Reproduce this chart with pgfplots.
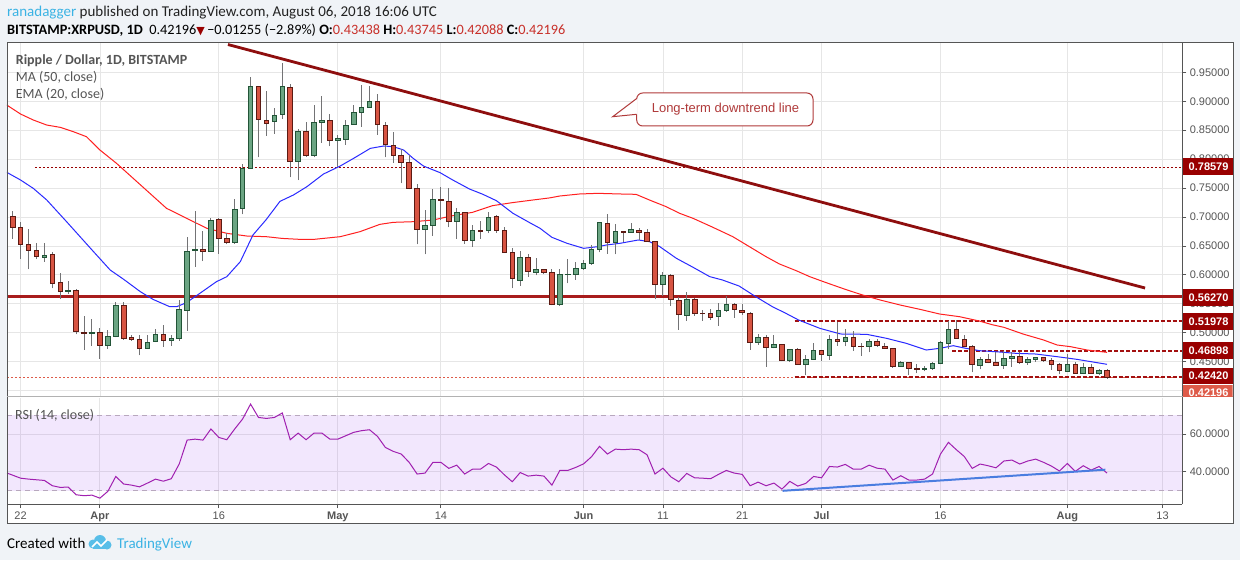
\documentclass[border=0pt]{standalone}
\usepackage{fontspec}
\setmainfont{Liberation Sans}
\newfontfamily\cf{Carlito}
\newfontfamily\djv{DejaVu Sans}
\usepackage{pgfplots}
\pgfplotsset{compat=1.18}
\usepackage{pgfplotstable}
\definecolor{bgc}{HTML}{F0F3F7}
\definecolor{upf}{HTML}{6BA583}
\definecolor{upb}{HTML}{225437}
\definecolor{dnf}{HTML}{D75442}
\definecolor{dnb}{HTML}{5B1A13}
\definecolor{wick}{HTML}{737375}
\definecolor{gridc}{HTML}{E6E6E6}
\definecolor{txt}{HTML}{555555}
\definecolor{hdr}{HTML}{222222}
\definecolor{lvl}{HTML}{990000}
\definecolor{lastc}{HTML}{DE5B49}
\definecolor{bandc}{RGB}{150,60,240}
\definecolor{rsic}{HTML}{A020B0}
\definecolor{tvblue}{HTML}{3BB3E4}
\definecolor{trend}{HTML}{8E0E0E}
\definecolor{callout}{HTML}{B03A3A}
\definecolor{valred}{HTML}{C8302A}
\definecolor{maR}{HTML}{FF2020}
\definecolor{emaB}{HTML}{2A2AFF}
\definecolor{hline}{HTML}{A81C1C}
\definecolor{dashc}{HTML}{A31010}
\definecolor{rsidash}{HTML}{B8A8BE}
\definecolor{rsitl}{HTML}{4A7DE0}

\pgfplotstableread{
d O H L C
-1 0.7017 0.7104 0.6626 0.6816
0 0.6821 0.6914 0.6269 0.6528
1 0.6533 0.6787 0.6096 0.6424
2 0.6424 0.6556 0.6274 0.6315
3 0.6297 0.6556 0.6228 0.6343
4 0.6355 0.6395 0.5768 0.5854
5 0.5871 0.6038 0.5589 0.5710
6 0.5716 0.5900 0.5670 0.5739
7 0.5739 0.5750 0.4973 0.5019
8 0.5013 0.5290 0.4708 0.4984
9 0.4990 0.5243 0.4771 0.5013
10 0.5007 0.5076 0.4552 0.4783
11 0.4783 0.5048 0.4725 0.4938
12 0.4938 0.5531 0.4921 0.5468
13 0.5468 0.5537 0.4881 0.4904
14 0.4921 0.4961 0.4863 0.4886
15 0.4886 0.4961 0.4610 0.4731
16 0.4731 0.4961 0.4725 0.4834
17 0.4846 0.5059 0.4840 0.4979
18 0.4973 0.5134 0.4760 0.4869
19 0.4863 0.4961 0.4777 0.4904
20 0.4904 0.5566 0.4858 0.5405
21 0.5382 0.6660 0.5036 0.6413
22 0.6418 0.7104 0.6142 0.6447
23 0.6447 0.6758 0.6240 0.6401
24 0.6407 0.6988 0.6407 0.6942
25 0.6960 0.6988 0.6366 0.6631
26 0.6631 0.6729 0.6528 0.6562
27 0.6562 0.7305 0.6539 0.7132
28 0.7150 0.7916 0.7046 0.7841
29 0.7841 0.9425 0.7841 0.9257
30 0.9257 0.9257 0.8031 0.8687
31 0.8670 0.9177 0.8405 0.8618
32 0.8647 0.8877 0.8440 0.8756
33 0.8774 0.9666 0.8699 0.9257
34 0.9240 0.9298 0.7685 0.7962
35 0.7962 0.8515 0.7639 0.8474
36 0.8486 0.8641 0.8042 0.8060
37 0.8060 0.8935 0.8031 0.8636
38 0.8636 0.9091 0.8284 0.8670
39 0.8670 0.8780 0.8227 0.8330
40 0.8325 0.8417 0.7870 0.8359
41 0.8342 0.8676 0.8250 0.8584
42 0.8601 0.8935 0.8601 0.8808
43 0.8808 0.9281 0.8561 0.8895
44 0.8895 0.9263 0.8895 0.8998
45 0.8998 0.9125 0.8417 0.8601
46 0.8584 0.8641 0.8031 0.8255
47 0.8238 0.8469 0.7939 0.8065
48 0.8065 0.8181 0.7582 0.7939
49 0.7939 0.8065 0.7478 0.7495
50 0.7495 0.7564 0.6528 0.6787
51 0.6787 0.7121 0.6355 0.6856
52 0.6856 0.7484 0.6677 0.7305
53 0.7305 0.7518 0.6948 0.7282
54 0.7271 0.7507 0.6821 0.6919
55 0.6919 0.7155 0.6626 0.7081
56 0.7081 0.7081 0.6539 0.6597
57 0.6597 0.6862 0.6487 0.6770
58 0.6770 0.6931 0.6626 0.6747
59 0.6770 0.7086 0.6718 0.6994
60 0.7011 0.7034 0.6729 0.6770
61 0.6770 0.6833 0.6390 0.6390
62 0.6390 0.6459 0.5768 0.5940
63 0.5906 0.6407 0.5814 0.6303
64 0.6303 0.6355 0.5969 0.6061
65 0.6044 0.6286 0.5992 0.6096
66 0.6096 0.6096 0.6009 0.6044
67 0.6044 0.6102 0.5474 0.5492
68 0.5492 0.6102 0.5469 0.6010
69 0.6004 0.6281 0.5854 0.6015
70 0.6010 0.6223 0.5912 0.6114
71 0.6114 0.6258 0.6085 0.6200
72 0.6200 0.6517 0.6171 0.6442
73 0.6442 0.6908 0.6390 0.6908
74 0.6891 0.7052 0.6367 0.6563
75 0.6563 0.6879 0.6355 0.6753
76 0.6753 0.6753 0.6574 0.6730
77 0.6736 0.6891 0.6736 0.6782
78 0.6770 0.6810 0.6603 0.6736
79 0.6736 0.6799 0.6586 0.6586
80 0.6580 0.6580 0.5578 0.5831
81 0.5831 0.6044 0.5641 0.5993
82 0.5993 0.6015 0.5469 0.5572
83 0.5561 0.5624 0.5054 0.5313
84 0.5302 0.5710 0.5204 0.5578
85 0.5578 0.5601 0.5296 0.5336
86 0.5342 0.5399 0.5209 0.5331
87 0.5336 0.5411 0.5221 0.5267
88 0.5284 0.5509 0.5123 0.5388
89 0.5388 0.5641 0.5365 0.5492
90 0.5492 0.5509 0.5261 0.5405
91 0.5388 0.5497 0.5313 0.5348
92 0.5336 0.5353 0.4708 0.4835
93 0.4835 0.4979 0.4795 0.4921
94 0.4921 0.4956 0.4415 0.4749
95 0.4749 0.4956 0.4731 0.4801
96 0.4801 0.4801 0.4507 0.4524
97 0.4524 0.4714 0.4495 0.4714
98 0.4714 0.4731 0.4455 0.4455
99 0.4455 0.4616 0.4264 0.4541
100 0.4535 0.4829 0.4535 0.4696
101 0.4696 0.4696 0.4518 0.4627
102 0.4604 0.4967 0.4535 0.4886
103 0.4892 0.5186 0.4777 0.4846
104 0.4846 0.5059 0.4766 0.4921
105 0.4921 0.5025 0.4691 0.4766
106 0.4772 0.4817 0.4604 0.4760
107 0.4766 0.4886 0.4662 0.4852
108 0.4852 0.4886 0.4760 0.4777
109 0.4766 0.4817 0.4731 0.4731
110 0.4731 0.4731 0.4397 0.4414
111 0.4420 0.4512 0.4420 0.4495
112 0.4489 0.4489 0.4270 0.4385
113 0.4391 0.4455 0.4299 0.4368
114 0.4368 0.4426 0.4334 0.4391
115 0.4385 0.4495 0.4362 0.4478
116 0.4472 0.4852 0.4455 0.4835
117 0.4823 0.5197 0.4714 0.5059
118 0.5059 0.5226 0.4904 0.4904
119 0.4886 0.4967 0.4766 0.4766
120 0.4766 0.4783 0.4316 0.4455
121 0.4437 0.4587 0.4368 0.4541
122 0.4541 0.4627 0.4472 0.4489
123 0.4483 0.4662 0.4437 0.4437
124 0.4431 0.4691 0.4374 0.4558
125 0.4552 0.4673 0.4414 0.4599
126 0.4599 0.4673 0.4466 0.4483
127 0.4483 0.4587 0.4449 0.4541
128 0.4535 0.4581 0.4501 0.4581
129 0.4581 0.4581 0.4501 0.4518
130 0.4524 0.4570 0.4362 0.4449
131 0.4455 0.4483 0.4282 0.4345
132 0.4334 0.4633 0.4334 0.4455
133 0.4460 0.4495 0.4299 0.4299
134 0.4299 0.4478 0.4288 0.4403
135 0.4403 0.4460 0.4288 0.4299
136 0.4299 0.4374 0.4276 0.4351
137 0.43438 0.43745 0.42088 0.42196
}\candles

\begin{document}
\begin{tikzpicture}[x=1pt,y=1pt]
\fill[bgc] (0,0) rectangle (1240,560);
\fill[white] (7,37) rectangle (1233,517);

% ---------------- price pane
\begin{axis}[
  at={(7pt,163.5pt)}, anchor=south west,
  x=7.93pt, y=578.8pt,
  xmin=-1.715, xmax=146.49, ymin=0.3899, ymax=1.0001,
  axis line style={draw=none},
  xtick={0,10,25,40,53,71,81,91,101,116,132,144},
  xticklabels={},
  xtick style={draw=none},
  ytick={0.45,0.5,0.55,0.6,0.65,0.7,0.75,0.8,0.85,0.9,0.95},
  extra y ticks={0.4}, extra y tick labels={},
  extra y tick style={major tick length=0pt},
  ytick pos=right, yticklabel pos=right,
  tick align=outside, major tick length=4pt,
  ytick style={draw=txt, line width=0.8pt},
  yticklabel style={font=\fontsize{11}{12}\selectfont, text=txt},
  y tick label style={/pgf/number format/.cd, fixed, fixed zerofill, precision=5, assume math mode=true},
  grid=major, major grid style={draw=gridc, line width=0.8pt},
  clip=true,
]
% horizontal levels (behind candles)
\addplot[hline, line width=2.6pt] coordinates {(-1.715,0.5627) (146.49,0.5627)};
\addplot[lvl, line width=1pt, dash pattern=on 2pt off 2pt] coordinates {(1.8,0.78579) (146.49,0.78579)};
\addplot[lastc, line width=1pt, dash pattern=on 2pt off 2pt] coordinates {(-1.715,0.42196) (146.49,0.42196)};
\addplot[dashc, line width=2.2pt, dash pattern=on 4pt off 2pt] coordinates {(97.6,0.51978) (146.49,0.51978)};
\addplot[dashc, line width=2.2pt, dash pattern=on 4pt off 2pt] coordinates {(117.5,0.46898) (146.49,0.46898)};
\addplot[dashc, line width=2.2pt, dash pattern=on 4pt off 2pt] coordinates {(97.6,0.42420) (146.49,0.42420)};
% candles
\addplot[only marks, scatter, mark=text, text mark={},
  visualization depends on={\thisrow{O} \as \vO},
  visualization depends on={\thisrow{H} \as \vH},
  visualization depends on={\thisrow{L} \as \vL},
  visualization depends on={\thisrow{C} \as \vC},
  scatter/@pre marker code/.code={%
    \pgfmathsetmacro\hH{(\vH-\vO)*578.8}%
    \pgfmathsetmacro\hL{(\vL-\vO)*578.8}%
    \pgfmathsetmacro\hC{(\vC-\vO)*578.8}%
    \ifdim\hC pt<0pt \def\candf{dnf}\def\candb{dnb}\else\def\candf{upf}\def\candb{upb}\fi
    \draw[wick, line width=1pt] (0pt,\hL pt) -- (0pt,\hH pt);
    \draw[draw=\candb, fill=\candf, line width=0.9pt] (-2.3pt,0pt) rectangle (2.3pt,\hC pt);
  },
  scatter/@post marker code/.code={},
] table[x=d, y=O] {\candles};
% MA 50
\addplot[maR, line width=1pt] coordinates {(-1.75,0.8935) (0,0.8779) (1.6,0.8676) (3.3,0.8589) (5,0.8549) (6.65,0.8474) (8.3,0.8388) (10,0.8158) (12.1,0.7927) (14.2,0.7668) (16.3,0.7409) (18.4,0.7150) (20.1,0.7035) (21.8,0.6919) (23.5,0.6804) (26,0.6718) (28.5,0.6672) (31,0.6660) (33,0.6630) (35.2,0.6614) (37,0.6614) (40.3,0.6660) (42.8,0.6747) (45.3,0.6873) (47,0.6908) (49.5,0.6919) (52,0.6948) (54.5,0.7023) (57,0.7081) (59.5,0.7196) (62,0.7248) (64.6,0.7294) (66.7,0.7330) (68,0.7363) (70.5,0.7398) (72.8,0.7409) (75.6,0.7398) (77.6,0.7392) (79.3,0.7294) (81.4,0.7179) (83.1,0.7064) (84.8,0.6977) (87.3,0.6822) (89.8,0.6661) (91.9,0.6488) (94,0.6315) (95.7,0.6188) (97.8,0.6073) (99.5,0.5970) (101.5,0.5870) (104,0.5750) (106,0.5660) (108.4,0.5566) (110.9,0.5480) (113.4,0.5405) (115.9,0.5324) (118.4,0.5278) (120.9,0.5203) (122.5,0.5140) (124,0.5094) (126.4,0.4979) (129,0.4875) (130.7,0.4789) (132.4,0.4760) (134.5,0.4702) (137,0.4662)};
% EMA 20
\addplot[emaB, line width=1pt] coordinates {(-1.75,0.7772) (0,0.7639) (1.6,0.7495) (3.3,0.7294) (5.8,0.6919) (7.5,0.6660) (9.2,0.6401) (11.3,0.6084) (13,0.5923) (15.1,0.5710) (16.7,0.5577) (18.8,0.5451) (19.7,0.5451) (20.9,0.5520) (22.6,0.5681) (24.7,0.5883) (26,0.5969) (27.7,0.6228) (29.3,0.6689) (31,0.6960) (32.7,0.7270) (34.4,0.7380) (36.1,0.7524) (38.2,0.7743) (40.3,0.7881) (42,0.8014) (44.1,0.8186) (45.8,0.8227) (47,0.8215) (48.3,0.8158) (49.5,0.8014) (50.8,0.7881) (52.9,0.7766) (54.5,0.7639) (56.6,0.7484) (58.3,0.7392) (60,0.7282) (62.1,0.7063) (64.2,0.6902) (65.5,0.6805) (67,0.6649) (68.9,0.6546) (71,0.6459) (72.8,0.6488) (73.9,0.6517) (75.6,0.6546) (77.9,0.6603) (79.3,0.6574) (80.6,0.6488) (82.7,0.6286) (84.8,0.6131) (86.9,0.5970) (88.5,0.5912) (90.6,0.5808) (92.7,0.5624) (94.8,0.5451) (96.5,0.5336) (98.1,0.5221) (100.8,0.5076) (103.4,0.4979) (106.7,0.4973) (109.2,0.4904) (111.7,0.4817) (114.2,0.4702) (115.9,0.4731) (117.6,0.4777) (119.2,0.4731) (120.9,0.4691) (123.4,0.4668) (125.5,0.4645) (128,0.4633) (130.7,0.4587) (133.2,0.4541) (137,0.4455)};
% long-term downtrend line
\addplot[trend, line width=2.8pt] coordinates {(26.15,0.998) (141.8,0.5773)};
\end{axis}

% ---------------- RSI pane
\begin{axis}[
  at={(7pt,56pt)}, anchor=south west,
  x=7.93pt, y=1.885pt,
  xmin=-1.715, xmax=146.49, ymin=22.9, ymax=79.1,
  axis line style={draw=none},
  xtick={0,10,25,40,53,71,81,91,101,116,132,144},
  xticklabels={22,\textbf{Apr},16,\textbf{May},14,\textbf{Jun},11,21,\textbf{Jul},16,\textbf{Aug},13},
  xtick pos=left, ytick pos=right, yticklabel pos=right,
  ytick={40,60},
  tick align=outside, major tick length=4pt,
  tick style={draw=txt, line width=0.8pt},
  xticklabel style={font=\fontsize{11}{12}\selectfont, text=txt},
  yticklabel style={font=\fontsize{11}{12}\selectfont, text=txt},
  y tick label style={/pgf/number format/.cd, fixed, fixed zerofill, precision=4, assume math mode=true},
  grid=major, major grid style={draw=gridc, line width=0.8pt},
  clip=true,
]
\fill[bandc, fill opacity=0.12] (axis cs:-1.715,30) rectangle (axis cs:146.49,70);
\addplot[rsidash, line width=0.8pt, dash pattern=on 5pt off 4pt] coordinates {(-1.715,70) (146.49,70)};
\addplot[rsidash, line width=0.8pt, dash pattern=on 5pt off 4pt] coordinates {(-1.715,30) (146.49,30)};
\addplot[rsic, line width=1pt] coordinates {(-1.7,39.3) (0,36.6) (1,36.1) (3,35.4) (4,32.6) (5,31.7) (6,31.9) (7,27.8) (8,27.3) (9,27.6) (10,26.0) (11,29.6) (12,37.5) (13,33.5) (14,32.9) (15,32.0) (16,34.0) (17,36.1) (18,35.0) (19,36.3) (20,44.1) (21,56.8) (22,57.3) (23,56.8) (24,62.7) (25,58.2) (26,57.0) (27,62.7) (28,68.0) (29,75.9) (30,68.8) (31,68.3) (32,68.8) (33,71.2) (34,57.0) (35,60.5) (36,57.0) (37,60.5) (38,60.5) (39,57.3) (40,57.3) (41,59.1) (42,60.9) (43,61.8) (44,62.3) (45,58.8) (46,52.9) (47,50.8) (48,49.4) (49,45.0) (50,38.8) (51,39.3) (52,45.0) (53,45.0) (54,41.8) (55,43.5) (56,38.8) (57,41.4) (58,41.4) (59,44.4) (60,42.5) (61,38.4) (62,34.7) (63,39.6) (64,37.7) (65,38.2) (66,37.7) (67,32.9) (68,40.7) (69,40.7) (70,42.3) (71,44.2) (72,48.0) (73,53.5) (74,49.4) (75,52.0) (76,51.7) (77,52.0) (78,51.7) (79,49.0) (80,38.8) (81,41.9) (82,37.3) (83,34.7) (84,39.1) (85,36.8) (86,36.6) (87,36.3) (88,38.6) (89,40.7) (90,39.3) (91,38.6) (92,32.6) (93,34.5) (94,32.6) (95,34.0) (96,30.8) (97,34.9) (98,32.4) (99,33.8) (100,37.5) (101,36.8) (102,42.8) (103,42.5) (104,43.9) (105,41.4) (106,41.4) (107,43.5) (108,41.9) (109,41.4) (110,35.6) (111,37.9) (112,35.6) (113,35.6) (114,36.1) (115,38.8) (116,49.4) (117,55.6) (118,51.7) (119,48.1) (120,41.8) (121,44.1) (122,43.2) (123,42.1) (124,45.7) (125,46.2) (126,44.1) (127,45.7) (128,46.7) (129,45.0) (130,43.0) (131,40.4) (132,44.4) (133,40.2) (134,43.2) (135,40.9) (136,42.8) (137,39.3)};
\addplot[rsitl, line width=2pt] coordinates {(96.1,29.9) (136.8,41.1)};
\end{axis}

% ---------------- frame lines
\draw[txt, line width=1pt] (7,37) rectangle (1233,517);
\draw[txt, line width=1pt] (1182.3,56) -- (1182.3,517);
\draw[txt, line width=1pt] (7,56) -- (1182.3,56);
\draw[black!30, line width=1pt] (7,163) -- (1233,163);

% ---------------- right-hand value boxes
\foreach \yy/\lab in {166.7/0.78579, 297.5/0.56270, 321.7/0.51978, 350.5/0.46898, 376/0.42420} {
  \fill[lvl] (1182.8,{560-\yy-8.3}) rectangle (1232.5,{560-\yy+8.3});
  \node[anchor=west, text=white, font=\bfseries\fontsize{11}{12}\selectfont, inner sep=0pt] at (1188.5,{560-\yy}) {\lab};
}
\begin{scope}
\clip (1182.8,163.6) rectangle (1232.5,180);
\fill[lastc] (1182.8,{560-393-8.3}) rectangle (1232.5,{560-393+8.3});
\node[anchor=west, text=white, font=\bfseries\fontsize{11}{12}\selectfont, inner sep=0pt] at (1188.5,{560-393}) {0.42196};
\end{scope}

% ---------------- pane labels
\node[anchor=base west, inner sep=0pt, text=txt, font=\cf\bfseries\fontsize{14}{16}\selectfont] at (15.7,495) {Ripple / Dollar, 1D, BITSTAMP};
\node[anchor=base west, inner sep=0pt, text=txt, font=\cf\fontsize{14}{16}\selectfont] at (15.7,478) {MA (50, close)};
\node[anchor=base west, inner sep=0pt, text=txt, font=\cf\fontsize{14}{16}\selectfont] at (15.7,461) {EMA (20, close)};
\node[anchor=base west, inner sep=0pt, text=txt, font=\cf\fontsize{14}{16}\selectfont] at (15,140.5) {RSI (14, close)};

% ---------------- callout
\draw[callout, line width=1pt, fill=white, rounded corners=6pt] (636.7,467) rectangle (813,434);
\fill[white] (637.5,461.5) -- (612.7,443.3) -- (637.5,445.5) -- cycle;
\draw[callout, line width=1pt] (636.7,461.5) -- (612.7,443.3) -- (636.7,445.7);
\node[anchor=center, text=callout, font=\fontsize{13}{14}\selectfont, inner sep=0pt] at (725.5,450.5) {Long-term downtrend line};

% ---------------- header
\node[anchor=base west, inner sep=0pt, text=hdr, font=\cf\fontsize{15}{16}\selectfont] at (7,543.5) {\textcolor{tvblue}{ranadagger} published on TradingView.com, August 06, 2018 16:06 UTC};
\node[anchor=base west, inner sep=0pt, text=black, font=\cf\fontsize{14.3}{16}\selectfont] at (7,525.5) {\textbf{BITSTAMP:XRPUSD, 1D}\ \ 0.42196{\djv\fontsize{11}{12}\selectfont\textcolor{lvl}{▼}}\,−0.01255 (−2.89\%)\ \textbf{O:}\textcolor{valred}{0.43438} \textbf{H:}\textcolor{valred}{0.43745} \textbf{L:}\textcolor{valred}{0.42088} \textbf{C:}\textcolor{valred}{0.42196}};

% ---------------- footer
\node[anchor=base west, inner sep=0pt, text=black, font=\cf\fontsize{15}{16}\selectfont] at (7,12) {Created with};
\fill[tvblue!85] (93,16) circle (4.5);
\fill[tvblue!85] (100,19) circle (6);
\fill[tvblue!85] (107,15) circle (4.5);
\fill[tvblue!85] (93,11.5) rectangle (107,15);
\draw[white, line width=1.6pt] (92,13) -- (97,18) -- (101,14) -- (107,20);
\node[anchor=base west, inner sep=0pt, text=tvblue, font=\cf\fontsize{15}{16}\selectfont] at (117,12) {TradingView};
\end{tikzpicture}
\end{document}
